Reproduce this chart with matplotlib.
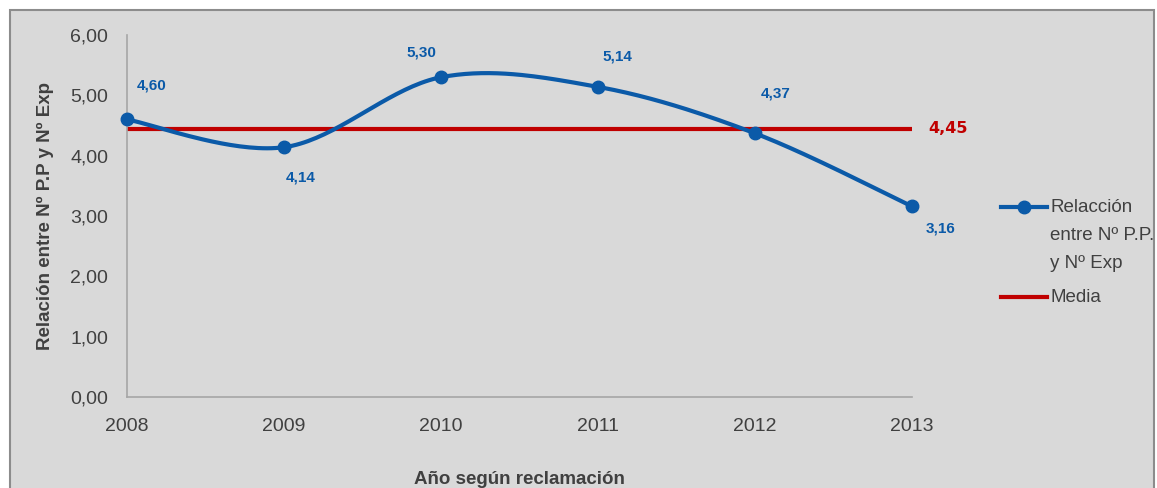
import matplotlib
matplotlib.use("Agg")
import matplotlib.pyplot as plt
import numpy as np
from matplotlib.patches import Rectangle
from matplotlib.lines import Line2D

years = [2008, 2009, 2010, 2011, 2012, 2013]
ratio = [4.60, 4.14, 5.30, 5.14, 4.37, 3.16]
media = 4.45
ratio_labels = ["4,60", "4,14", "5,30", "5,14", "4,37", "3,16"]
media_label = "4,45"
yticks = [0, 1, 2, 3, 4, 5, 6]
ytick_labels = ["0,00", "1,00", "2,00", "3,00", "4,00", "5,00", "6,00"]
series_names = ["Relacción\nentre Nº P.P.\ny Nº Exp", "Media"]

BLUE = "#0b5aa8"
RED = "#c00000"
GREY_TXT = "#404040"
BG = "#d9d9d9"
SANS = ["Liberation Sans", "DejaVu Sans"]
W, H = 1157, 488


def smooth(x, y, n=40):
    # Excel-style smoothed line: cubic Bezier with Catmull-Rom control points
    x = np.asarray(x, float)
    y = np.asarray(y, float)
    pts = np.column_stack([x, y])
    out = [pts[0]]
    for i in range(len(pts) - 1):
        p0 = pts[i - 1] if i > 0 else pts[i]
        p1 = pts[i]
        p2 = pts[i + 1]
        p3 = pts[i + 2] if i + 2 < len(pts) else pts[i + 1]
        c1 = p1 + (p2 - p0) / 6
        c2 = p2 - (p3 - p1) / 6
        t = np.linspace(0, 1, n)[1:, None]
        seg = ((1 - t) ** 3) * p1 + 3 * ((1 - t) ** 2) * t * c1 + 3 * (1 - t) * t ** 2 * c2 + t ** 3 * p2
        out.extend(seg)
    out = np.array(out)
    return out[:, 0], out[:, 1]


def fx(px):
    return px / W


def fy(py):
    return 1 - py / H


fig = plt.figure(figsize=(W / 100, H / 100), dpi=100)
fig.patch.set_facecolor("white")
fig.patches.append(Rectangle((fx(10), -0.05), fx(1144), fy(10) + 0.05,
                             transform=fig.transFigure, facecolor=BG,
                             edgecolor="#8c8c8c", linewidth=1.5, zorder=-5))

ax = fig.add_axes([fx(127), fy(397), fx(912 - 127), (397 - 35) / H])
ax.set_facecolor("none")
ax.set_zorder(2)

sx, sy = smooth(years, ratio)
ax.plot(sx, sy, color=BLUE, linewidth=3, zorder=3, clip_on=False)
ax.plot(years, ratio, "o", color=BLUE, markersize=9, zorder=4, clip_on=False)
ax.plot([years[0], years[-1]], [media, media], color=RED, linewidth=3, zorder=2)

# label offsets in pixels (left edge, vertical centre)
offsets = [(10, 34), (2, -30), (-35, 25), (4, 30), (6, 40), (14, -22)]
for xv, yv, lab, (dx, dy) in zip(years, ratio, ratio_labels, offsets):
    ax.annotate(lab, (xv, yv), xytext=(dx, dy), textcoords="offset pixels",
                color=BLUE, fontsize=11, fontweight="bold", family=SANS,
                ha="left", va="center")
ax.annotate(media_label, (years[-1], media), xytext=(16, 0), textcoords="offset pixels",
            color=RED, fontsize=11.5, fontweight="bold", family="DejaVu Sans",
            ha="left", va="center", annotation_clip=False)

ax.set_xlim(years[0], years[-1])
ax.set_ylim(0, 6)
ax.set_xticks(years)
ax.set_xticklabels([str(y) for y in years], family=SANS, fontsize=14, color=GREY_TXT)
ax.set_yticks(yticks)
ax.set_yticklabels(ytick_labels, family=SANS, fontsize=14, color=GREY_TXT)
ax.tick_params(length=0)
ax.tick_params(axis="x", pad=15)
ax.tick_params(axis="y", pad=13.5)
for side in ["top", "right"]:
    ax.spines[side].set_visible(False)
for side in ["left", "bottom"]:
    ax.spines[side].set_color("#a6a6a6")
    ax.spines[side].set_linewidth(1.2)

ax.set_ylabel("Relación entre Nº P.P y Nº Exp", family=SANS, fontsize=13.5,
              fontweight="bold", color=GREY_TXT, labelpad=12)
ax.set_xlabel("Año según reclamación", family=SANS, fontsize=13.5,
              fontweight="bold", color=GREY_TXT, labelpad=26)

# legend drawn by hand: Excel puts the key beside the first text line
key_x = [fx(1001), fx(1047)]
for name, color, marker, y0 in zip(series_names, [BLUE, RED], ["o", None], [207, 297]):
    fig.add_artist(Line2D(key_x, [fy(y0), fy(y0)], color=color, linewidth=3,
                          transform=fig.transFigure))
    if marker:
        fig.add_artist(Line2D([sum(key_x) / 2], [fy(y0)], color=color, marker=marker,
                              markersize=9, transform=fig.transFigure))
    for k, line in enumerate(name.split("\n")):
        fig.text(fx(1050), fy(y0 + 28 * k), line, family=SANS, fontsize=13.5,
                 color=GREY_TXT, ha="left", va="center")

fig.savefig("out.png", dpi=100)
